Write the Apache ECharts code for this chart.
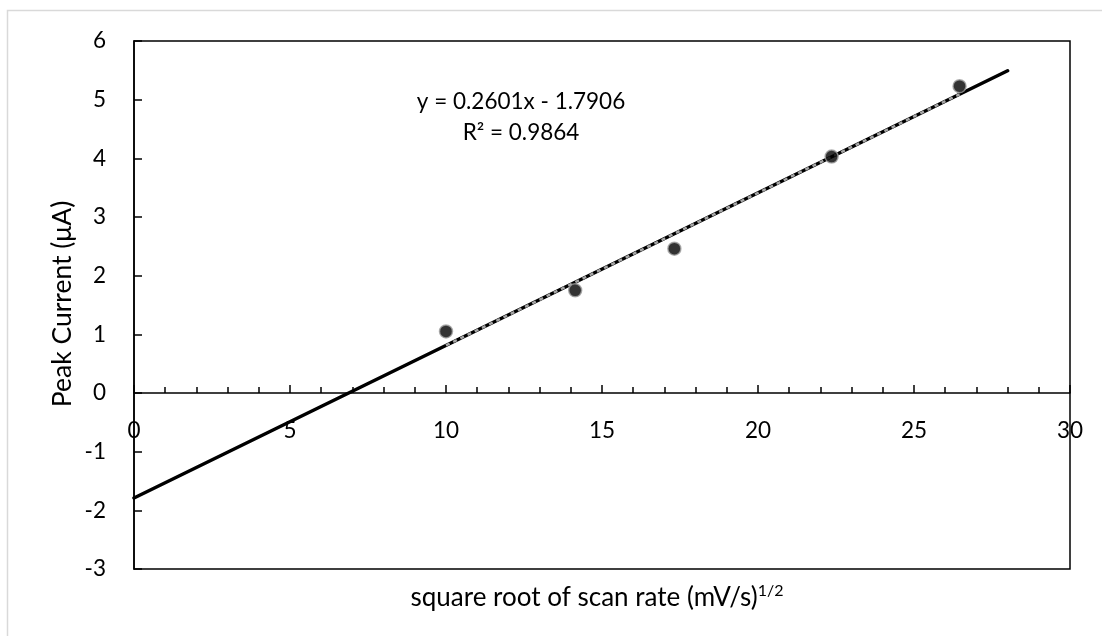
<!DOCTYPE html>
<html>
<head>
<meta charset="utf-8">
<script src="https://cdn.jsdelivr.net/npm/echarts@6/dist/echarts.min.js"></script>
<style>html,body{margin:0;padding:0;background:#fff}#c{width:1102px;height:636px}</style>
</head>
<body>
<div id="c"></div>
<script>
// Data
const scanRateSqrt = [10, 14.14, 17.32, 22.36, 26.46];
const peakCurrent = [1.05, 1.75, 2.46, 4.03, 5.23];
const trendX = [0, 28];
const trendY = [-1.7906, 5.4922];
const trendRangeX = [10, 26.46];
const trendRangeY = [0.8104, 5.0918];
const equationLines = ['y = 0.2601x - 1.7906', 'R² = 0.9864'];
const xTicks = [0, 5, 10, 15, 20, 25, 30];
const yTicks = [-3, -2, -1, 0, 1, 2, 3, 4, 5, 6];

const FONT = 'Lato';
const chart = echarts.init(document.getElementById('c'));
const pair = (xs, ys) => xs.map((x, i) => [x, ys[i]]);

const xBase = {
  type: 'value', min: xTicks[0], max: xTicks[xTicks.length - 1], interval: 5,
  splitLine: { show: false }
};

chart.setOption({
  animation: false,
  backgroundColor: '#fff',
  grid: { left: 134, right: 32, top: 41, bottom: 67, show: true, borderColor: '#000', borderWidth: 1.5 },
  xAxis: [
    Object.assign({}, xBase, {
      axisLine: { onZero: true, lineStyle: { color: '#000', width: 1.5 } },
      axisTick: { inside: true, length: 8, lineStyle: { color: '#000', width: 1.5 } },
      minorTick: { show: true, splitNumber: 5, length: 6, lineStyle: { color: '#000', width: 1.5 } },
      axisLabel: { show: false }
    }),
    Object.assign({}, xBase, {
      position: 'bottom', offset: -176,
      axisLine: { show: false, onZero: false },
      axisTick: { show: false },
      axisLabel: { color: '#000', fontSize: 22.5, fontFamily: FONT, margin: 26 }
    })
  ],
  yAxis: {
    type: 'value', min: yTicks[0], max: yTicks[yTicks.length - 1], interval: 1,
    axisLine: { onZero: false, lineStyle: { color: '#000', width: 1.5 } },
    axisTick: { inside: true, length: 8, lineStyle: { color: '#000', width: 1.5 } },
    axisLabel: { color: '#000', fontSize: 22.5, fontFamily: FONT, margin: 28 },
    splitLine: { show: false }
  },
  graphic: [
    { type: 'rect', shape: { x: 7.5, y: 10.5, width: 1200, height: 800 }, style: { fill: 'none', stroke: '#d9d9d9', lineWidth: 1.5 }, silent: true, z: -10 },
    { type: 'text', x: 521, y: 102, style: { text: equationLines[0], font: '22.5px ' + FONT, fill: '#000', align: 'center', verticalAlign: 'middle' } },
    { type: 'text', x: 521, y: 133, style: { text: equationLines[1], font: '22.5px ' + FONT, fill: '#000', align: 'center', verticalAlign: 'middle' } },
    { type: 'text', x: 597, y: 598, style: {
        text: '{n|square root of scan rate (mV/s)}{s|1/2}', align: 'center', verticalAlign: 'middle',
        rich: { n: { fontSize: 26, fontFamily: FONT, color: '#000' },
                s: { fontSize: 16, fontFamily: FONT, color: '#000', verticalAlign: 'top', padding: [0, 0, 14, 0] } } } },
    { type: 'text', x: 62, y: 304, rotation: Math.PI / 2, style: {
        text: '{n|Peak Current (}{g|μA}{n|)}', align: 'center', verticalAlign: 'middle',
        rich: { n: { fontSize: 26.5, fontFamily: FONT, color: '#000' }, g: { fontSize: 26.5, fontFamily: FONT, color: '#777' } } } }
  ],
  series: [
    { type: 'line', data: pair(trendX, trendY), symbol: 'none', lineStyle: { color: '#000', width: 3.5, cap: 'round' }, z: 2 },
    { type: 'line', data: pair(trendRangeX, trendRangeY), symbol: 'none', lineStyle: { color: '#a6a6a6', width: 2.5, type: [4, 4] }, z: 3 },
    { type: 'scatter', data: pair(scanRateSqrt, peakCurrent), symbol: 'circle', symbolSize: 13,
      itemStyle: { color: '#000', borderColor: '#a0a0a0', borderWidth: 1.5 }, z: 4 }
  ]
});
</script>
</body>
</html>
